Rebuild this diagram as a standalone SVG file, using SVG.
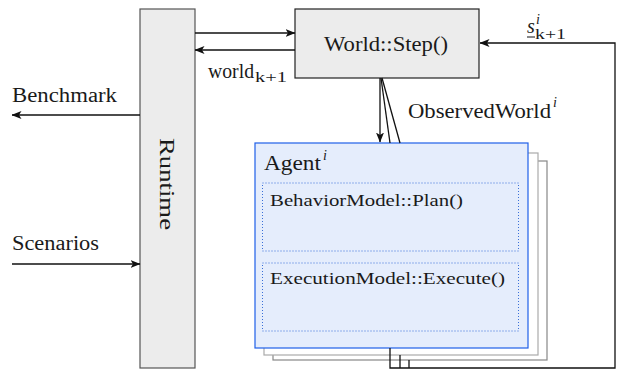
<svg xmlns="http://www.w3.org/2000/svg" width="618" height="369" viewBox="0 0 618 369">
<style>
text{font-family:"Liberation Serif","DejaVu Serif",serif;fill:#1a1a1a}
.m{font-size:20px}
.s{font-size:16.5px}
.sub{font-size:15px}
.ln{fill:none;stroke:#111;stroke-width:1.3}
.dot{fill:none;stroke:#3a6fd8;stroke-width:1;stroke-dasharray:1 2}
</style>
<defs>
<marker id="ah" viewBox="0 0 10 10" refX="9.5" refY="5" markerWidth="10" markerHeight="10" markerUnits="userSpaceOnUse" orient="auto">
<path d="M0,1 L10,5 L0,9 L2.5,5 Z" fill="#111"/>
</marker>
</defs>
<g id="runtime">
<rect x="140" y="9" width="55" height="359" fill="#ececec" stroke="#555" stroke-width="1.2"/>
<text transform="translate(160,184) rotate(90)" text-anchor="middle" font-size="22" textLength="92" lengthAdjust="spacingAndGlyphs">Runtime</text>
</g>
<g id="world">
<rect x="295" y="9" width="184" height="69" fill="#ececec" stroke="#222" stroke-width="1.2"/>
<text class="m" x="324" y="51" textLength="124" lengthAdjust="spacingAndGlyphs">World::Step()</text>
</g>
<g id="agent-shadow2">
<rect x="273" y="161" width="274" height="199" fill="#fff" stroke="#888" stroke-width="1.2"/>
</g>
<g id="agent-shadow1">
<rect x="264" y="153" width="274" height="202" fill="#fff" stroke="#aaa" stroke-width="1.2"/>
</g>
<g id="agent">
<rect x="255" y="143" width="273" height="205" fill="#e5edfc" stroke="#1f5fe8" stroke-width="1.2"/>
<text x="264" y="170" font-size="22" textLength="57" lengthAdjust="spacingAndGlyphs">Agent</text>
<text x="323" y="160" font-size="14" font-style="italic">i</text>
</g>
<g id="behavior">
<rect x="262.5" y="183" width="256" height="68" class="dot"/>
<text class="s" x="270" y="206" textLength="193" lengthAdjust="spacingAndGlyphs">BehaviorModel::Plan()</text>
</g>
<g id="execution">
<rect x="262.5" y="263" width="256" height="68" class="dot"/>
<text class="s" x="270" y="284" textLength="235" lengthAdjust="spacingAndGlyphs">ExecutionModel::Execute()</text>
</g>
<g id="labels">
<text class="m" x="12" y="102" textLength="105" lengthAdjust="spacingAndGlyphs">Benchmark</text>
<text class="m" x="12" y="250" textLength="87" lengthAdjust="spacingAndGlyphs">Scenarios</text>
<text class="m" x="208" y="78" textLength="46" lengthAdjust="spacingAndGlyphs">world</text>
<text class="sub" x="255" y="82" textLength="32" lengthAdjust="spacingAndGlyphs">k+1</text>
<text class="m" x="408" y="118" textLength="143" lengthAdjust="spacingAndGlyphs">ObservedWorld</text>
<text x="553" y="107" font-size="14" font-style="italic">i</text>
<text class="m" x="527" y="33" font-style="italic">s</text>
<line x1="527" y1="37" x2="535" y2="37" stroke="#111" stroke-width="1"/>
<text x="536" y="24" font-size="14" font-style="italic">i</text>
<text class="sub" x="535" y="39" textLength="31" lengthAdjust="spacingAndGlyphs">k+1</text>
</g>
<g id="connectors">
<line class="ln" x1="195" y1="33" x2="295" y2="33" marker-end="url(#ah)"/>
<line class="ln" x1="295" y1="50" x2="195" y2="50" marker-end="url(#ah)"/>
<line class="ln" x1="140" y1="115" x2="12" y2="115" marker-end="url(#ah)"/>
<line class="ln" x1="12" y1="264" x2="140" y2="264" marker-end="url(#ah)"/>
<line class="ln" x1="380" y1="78" x2="380" y2="142" marker-end="url(#ah)"/>
<line class="ln" x1="381" y1="78" x2="390" y2="143"/>
<line class="ln" x1="382" y1="78" x2="400" y2="143"/>
<path class="ln" d="M390,348 V368 H615 V43 H480" marker-end="url(#ah)"/>
<line class="ln" x1="400" y1="355" x2="400" y2="368"/>
<line class="ln" x1="409" y1="360" x2="409" y2="368"/>
</g>
</svg>
